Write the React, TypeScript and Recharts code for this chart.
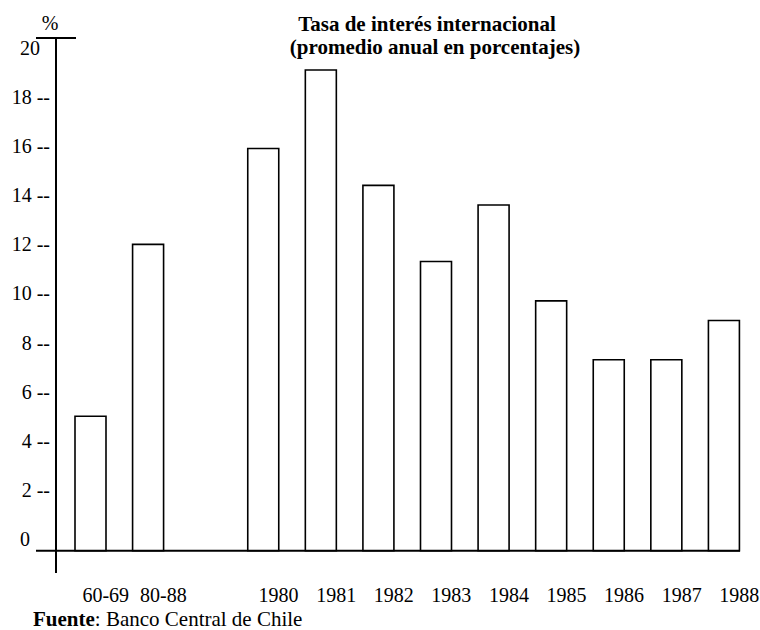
import { BarChart, Bar, XAxis, YAxis } from 'recharts';

// periods on the x axis (the empty one is the gap between the averages and the years)
const periods = ['60-69', '80-88', '', '1980', '1981', '1982', '1983', '1984', '1985', '1986', '1987', '1988'];
// international interest rate, annual average in %
const rates = [5.0, 12.0, null, 15.9, 19.1, 14.4, 11.3, 13.6, 9.7, 7.3, 7.3, 8.9];
const yTicks = [0, 2, 4, 6, 8, 10, 12, 14, 16, 18, 20];

const Y_MIN = -1.38;
const Y_MAX = 20.4;
const BASE = -0.47; // bars stand on a line drawn a little below zero

const rows = periods.map((p, i) => ({
  period: p,
  range: rates[i] == null ? null : [BASE, rates[i]],
}));

const W = 760;
const H = 630;
const M = { top: 38, right: 7, bottom: 27, left: 0 };
const Y_AXIS_W = 56;
const plotH = H - M.top - M.bottom - 30;
const yPix = (v: number) => M.top + ((Y_MAX - v) / (Y_MAX - Y_MIN)) * plotH;

const FONT = '"Liberation Serif", "Times New Roman", serif';

const YTick = (props: any) => {
  const { x, y, payload } = props;
  const v = payload.value;
  const plain = v === 0 || v === 20;
  return (
    <text
      x={plain ? x - 30 : x}
      y={y}
      dy="0.35em"
      textAnchor={plain ? 'start' : 'end'}
      style={{ fontFamily: FONT }}
      fontSize={20}
      fill="#000"
    >
      {plain ? String(v) : `${v} --`}
    </text>
  );
};

const XTick = (props: any) => {
  const { x, y, payload } = props;
  return (
    <text x={x + 15} y={y + 29} textAnchor="middle" style={{ fontFamily: FONT }} fontSize={20} fill="#000">
      {payload.value}
    </text>
  );
};

export default function App() {
  return (
    <div style={{ position: 'absolute', left: 0, top: 0, background: '#fff' }}>
      <BarChart width={W} height={H} data={rows} margin={M}>
        <XAxis
          dataKey="period"
          axisLine={false}
          tickLine={false}
          tickSize={0}
          tickMargin={0}
          height={30}
          interval={0}
          padding={{ left: 6, right: 0 }}
          tick={<XTick />}
        />
        <YAxis
          type="number"
          domain={[Y_MIN, Y_MAX]}
          allowDataOverflow
          ticks={yTicks}
          interval={0}
          width={Y_AXIS_W}
          tickLine={false}
          tickSize={0}
          tickMargin={6}
          axisLine={{ stroke: '#000', strokeWidth: 2 }}
          tick={<YTick />}
        />
        <Bar
          dataKey="range"
          barSize={31}
          fill="#fff"
          stroke="#000"
          strokeWidth={1.6}
          isAnimationActive={false}
        />
        {/* short cap on top of the value axis and the base line under the bars */}
        <line x1={36} x2={76} y1={yPix(Y_MAX)} y2={yPix(Y_MAX)} stroke="#000" strokeWidth={2} />
        <line x1={36} x2={740} y1={yPix(BASE)} y2={yPix(BASE)} stroke="#000" strokeWidth={2} />
        <text x={50} y={30} textAnchor="middle" style={{ fontFamily: FONT }} fontSize={20} fill="#000">%</text>
        <text x={427} y={31} textAnchor="middle" style={{ fontFamily: FONT }} fontSize={21} fontWeight="bold" fill="#000">
          Tasa de interés internacional
        </text>
        <text x={435} y={54} textAnchor="middle" style={{ fontFamily: FONT }} fontSize={21} fontWeight="bold" fill="#000">
          (promedio anual en porcentajes)
        </text>
        <text x={33} y={625.5} style={{ fontFamily: FONT }} fontSize={21} fill="#000">
          <tspan fontWeight="bold">Fuente</tspan>
          <tspan>: Banco Central de Chile</tspan>
        </text>
      </BarChart>
    </div>
  );
}
